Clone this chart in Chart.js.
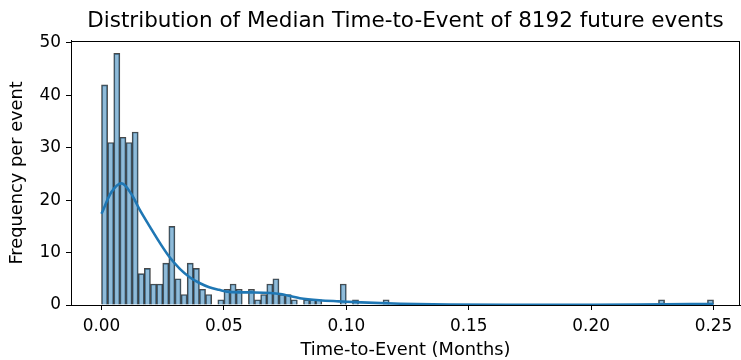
<!DOCTYPE html>
<html>
<head>
<meta charset="utf-8">
<script src="https://cdn.jsdelivr.net/npm/chart.js@4/dist/chart.umd.min.js"></script>
<style>
  html, body { margin: 0; padding: 0; background: #fff; }
  #wrap { width: 741px; height: 360px; }
</style>
</head>
<body>
<div id="wrap"><canvas id="histChart" width="741" height="360"></canvas></div>
<script>
// Histogram bins (width 0.0025 months, starting at 0.00)
const binWidth = 0.0025;
const binStarts = [];
for (let i = 0; i < 100; i++) binStarts.push(i * binWidth);

// counts per bin (0 = empty bin)
const counts = [
  42, 31, 48, 32, 31, 33, 6, 7, 4, 4,
  8, 15, 5, 2, 8, 7, 3, 2, 0, 1,
  3, 4, 3, 0, 3, 1, 2, 4, 5, 2,
  2, 1, 0, 1, 1, 1, 0, 0, 0, 4,
  0, 1, 0, 0, 0, 0, 1, 0, 0, 0,
  0, 0, 0, 0, 0, 0, 0, 0, 0, 0,
  0, 0, 0, 0, 0, 0, 0, 0, 0, 0,
  0, 0, 0, 0, 0, 0, 0, 0, 0, 0,
  0, 0, 0, 0, 0, 0, 0, 0, 0, 0,
  0, 1, 0, 0, 0, 0, 0, 0, 0, 1
];

// KDE curve, points
const kdeX = [0.0, 0.004, 0.0082, 0.012, 0.0157, 0.0198, 0.0239, 0.028, 0.032, 0.036,
  0.040, 0.044, 0.048, 0.052, 0.061, 0.069, 0.073, 0.081, 0.089, 0.097,
  0.106, 0.122, 0.142, 0.17, 0.2, 0.23, 0.25];
const kdeY = [17.4, 21.5, 23.2, 21.3, 18.1, 14.9, 11.8, 9.0, 6.9, 5.3,
  4.2, 3.4, 2.9, 2.5, 2.4, 2.3, 2.1, 1.3, 0.9, 0.7,
  0.5, 0.25, 0.1, 0.05, 0.05, 0.15, 0.2];

const xTicks = [0, 0.05, 0.10, 0.15, 0.20, 0.25];
const yTicks = [0, 10, 20, 30, 40, 50];

const FONT = "'DejaVu Sans', sans-serif";

// box around the plot area (matplotlib style spines)
const frame = {
  id: 'frame',
  afterDraw(chart) {
    const { ctx, chartArea: a } = chart;
    ctx.save();
    ctx.strokeStyle = '#000';
    ctx.lineWidth = 1;
    ctx.strokeRect(Math.round(a.left) + 0.5, Math.round(a.top) + 0.5,
      Math.round(a.right - a.left) - 1, Math.round(a.bottom - a.top));
    ctx.restore();
  }
};

const barData = binStarts.map((s, i) => ({ x: s + binWidth / 2, y: counts[i] > 0 ? counts[i] : null }));
const kdeData = kdeX.map((x, i) => ({ x: x, y: kdeY[i] }));

new Chart(document.getElementById('histChart'), {
  type: 'bar',
  data: {
    datasets: [{
      type: 'line',
      data: kdeData,
      borderColor: '#1f77b4',
      borderWidth: 2.6,
      pointRadius: 0,
      cubicInterpolationMode: 'monotone',
      fill: false,
      order: 0
    }, {
      type: 'bar',
      data: barData,
      backgroundColor: 'rgba(31,119,180,0.5)',
      borderColor: 'rgba(40,40,40,0.85)',
      borderWidth: 1,
      borderSkipped: 'bottom',
      barPercentage: 1,
      categoryPercentage: 1,
      grouped: false,
      order: 1
    }]
  },
  options: {
    responsive: false,
    animation: false,
    layout: { padding: { left: 0, right: 1, top: 0, bottom: 0 } },
    plugins: {
      legend: { display: false },
      tooltip: { enabled: false },
      title: {
        display: true,
        text: 'Distribution of Median Time-to-Event of 8192 future events',
        color: '#000',
        font: { family: FONT, size: 21.5, weight: 'normal', lineHeight: 1.2 },
        padding: { top: 9, bottom: 6 },
        fullSize: false
      }
    },
    scales: {
      x: {
        type: 'linear',
        offset: false,
        min: -0.01246,
        max: 0.2608,
        afterBuildTicks: s => { s.ticks = xTicks.map(v => ({ value: v })); },
        afterFit: s => { s.height = 55; },
        grid: { display: true, drawOnChartArea: false, offset: false, color: '#000', tickLength: 5, tickWidth: 1 },
        border: { display: true, color: '#000', width: 1 },
        ticks: {
          color: '#000',
          padding: 6,
          maxRotation: 0,
          font: { family: FONT, size: 16.9 },
          callback: v => v.toFixed(2)
        },
        title: {
          display: true,
          text: 'Time-to-Event (Months)',
          color: '#000',
          font: { family: FONT, size: 17.8, lineHeight: 1.1 },
          padding: { top: 0, bottom: 0 }
        }
      },
      y: {
        min: 0,
        max: 50.4,
        afterBuildTicks: s => { s.ticks = yTicks.map(v => ({ value: v })); },
        afterFit: s => { s.width = 71; },
        grid: { display: true, drawOnChartArea: false, color: '#000', tickLength: 5, tickWidth: 1 },
        border: { display: true, color: '#000', width: 1 },
        ticks: {
          color: '#000',
          padding: 5,
          font: { family: FONT, size: 16.9 }
        },
        title: {
          display: true,
          text: 'Frequency per event',
          color: '#000',
          font: { family: FONT, size: 17.8, lineHeight: 1.2 },
          padding: { top: 7, bottom: 0 }
        }
      }
    }
  },
  plugins: [frame]
});
</script>
</body>
</html>
